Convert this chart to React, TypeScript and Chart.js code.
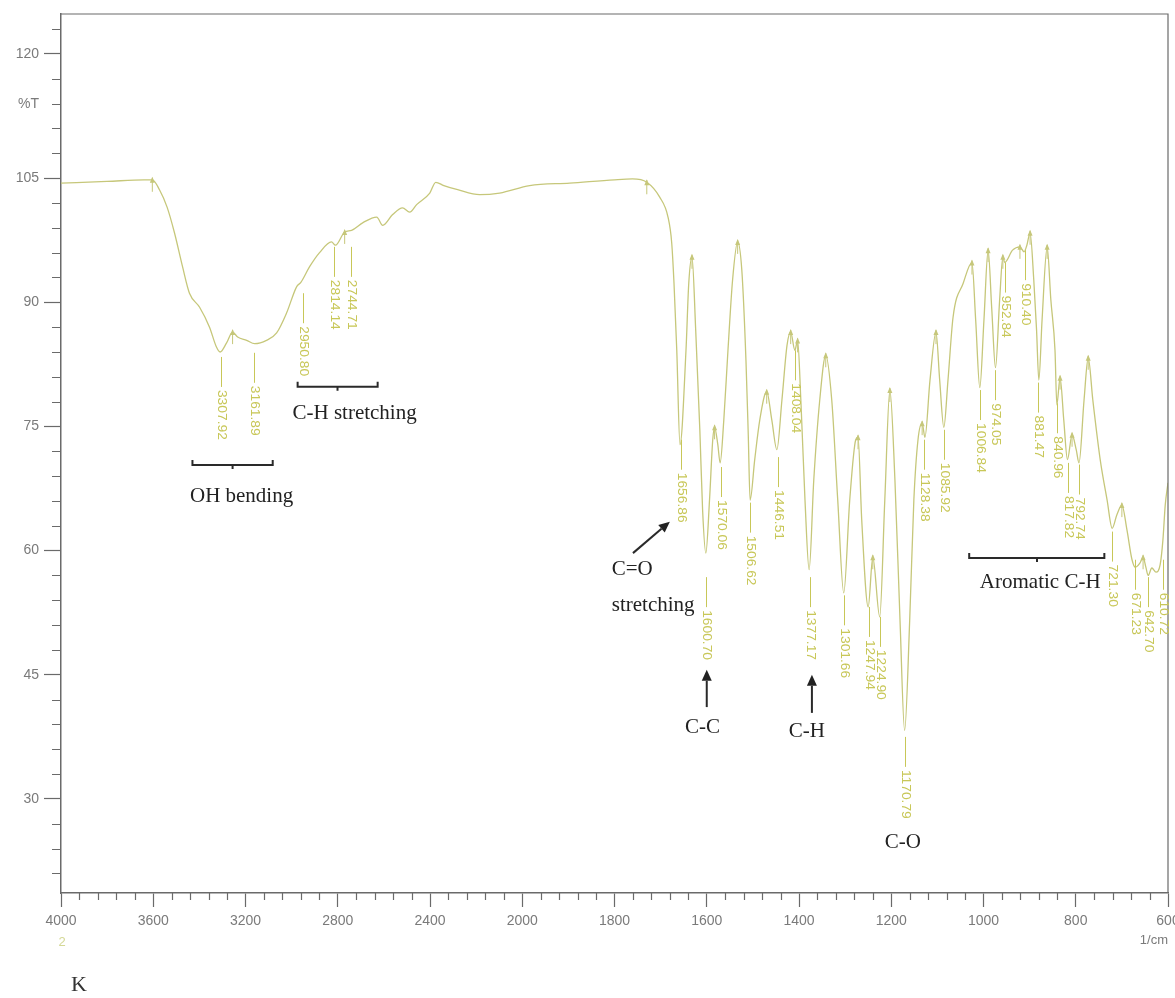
import React, { useEffect, useRef } from 'react';
import { Chart, registerables } from 'chart.js';

Chart.register(...registerables);

// ---- Spectrum data (wavenumber in 1/cm, transmittance in %T) ----
const wavenumbers = [
  4000, 3800, 3640, 3604, 3573, 3540, 3508, 3473, 3443, 3399, 3356, 3326, 3310, 3282, 3256, 3234, 3195, 3160,
  3109, 3065, 3022, 2978, 2960, 2922, 2879, 2827, 2810, 2770, 2740, 2692, 2631, 2605, 2562, 2519, 2488, 2458,
  2401, 2375, 2340, 2280, 2185, 2098, 1984, 1897, 1800, 1761, 1730, 1702, 1684, 1676, 1671, 1665, 1658, 1645,
  1639, 1632, 1624, 1615, 1609, 1602, 1594, 1587, 1583, 1576, 1571, 1563, 1554, 1544, 1533, 1524, 1515, 1510,
  1506, 1496, 1485, 1470, 1459, 1448, 1437, 1426, 1418, 1409, 1403, 1396, 1387, 1378, 1368, 1355, 1342, 1329,
  1316, 1303, 1290, 1277, 1272, 1264, 1250, 1240, 1225, 1214, 1203, 1192, 1181, 1171, 1160, 1151, 1142, 1133,
  1127, 1116, 1103, 1095, 1086, 1077, 1066, 1044, 1025, 1017, 1008, 999, 990, 982, 974, 965, 958, 954, 937, 921,
  912, 906, 899, 891, 885, 880, 873, 862, 854, 845, 841, 834, 826, 818, 808, 799, 793, 782, 773, 763, 747, 732,
  721, 711, 700, 689, 678, 671, 661, 654, 648, 643, 635, 626, 617, 611, 606, 600,
];
const transmittance = [
  104.4, 104.6, 104.8, 104.8, 103.6, 101.5, 98.4, 94.3, 91.1, 89.4, 87.0, 84.6, 84.0, 85.1, 86.4, 85.8, 85.4, 85.0,
  85.4, 86.3, 88.7, 91.9, 92.4, 94.3, 96.0, 97.3, 96.9, 98.5, 98.7, 99.6, 100.3, 99.3, 100.6, 101.4, 100.9, 101.8,
  103.2, 104.5, 104.1, 103.6, 103.0, 103.2, 104.1, 104.4, 104.8, 104.9, 104.5, 102.7, 100.3, 97.2, 92.3, 84.2, 72.8, 84.2,
  92.3, 95.5, 86.7, 74.6, 64.9, 59.7, 66.1, 73.4, 74.9, 72.8, 70.6, 75.8, 84.2, 92.7, 97.3, 93.9, 83.0, 74.0,
  66.1, 71.0, 75.8, 79.2, 75.8, 72.2, 78.2, 84.8, 86.4, 84.2, 85.4, 78.2, 66.1, 57.7, 68.5, 78.2, 83.6, 78.2,
  66.1, 54.9, 66.1, 73.4, 73.7, 63.7, 53.2, 59.2, 52.0, 66.1, 79.4, 68.5, 51.6, 38.3, 51.6, 66.1, 73.4, 75.4,
  73.7, 80.6, 86.4, 80.6, 74.9, 80.6, 88.2, 92.3, 94.8, 87.9, 79.7, 87.9, 96.3, 89.1, 82.1, 90.3, 95.5, 94.8, 96.3, 96.7,
  96.1, 96.9, 98.4, 92.7, 86.7, 80.6, 87.9, 96.7, 90.3, 84.2, 77.6, 80.9, 75.8, 71.0, 74.0, 72.2, 70.6, 78.2, 83.3, 78.2, 71.0, 66.1,
  62.7, 64.3, 65.5, 62.5, 58.9, 58.0, 58.5, 59.2, 58.0, 57.0, 57.9, 57.4, 58.3, 61.3, 65.5, 68.2,
];

// ---- Peak labels ----
const peakWavenumbers = [
  3307.92, 3161.89, 2950.8, 2814.14, 2744.71, 1656.86, 1600.7, 1570.06, 1506.62, 1446.51, 1408.04, 1377.17,
  1301.66, 1247.94, 1224.9, 1170.79, 1128.38, 1085.92, 1006.84, 974.05, 952.84, 910.4, 881.47, 840.96,
  817.82, 792.74, 721.3, 671.23, 642.7, 610.72,
];
const peakLabels = [
  '3307.92', '3161.89', '2950.80', '2814.14', '2744.71', '1656.86', '1600.70', '1570.06', '1506.62', '1446.51',
  '1408.04', '1377.17', '1301.66', '1247.94', '1224.90', '1170.79', '1128.38', '1085.92', '1006.84', '974.05',
  '952.84', '910.40', '881.47', '840.96', '817.82', '792.74', '721.30', '671.23', '642.70', '610.72',
];
const peakAnchorT = [
  83.4, 83.9, 91.1, 96.7, 96.7, 73.4, 56.8, 70.1, 65.8, 71.3, 84.2, 56.8, 54.6, 53.2, 52.0, 37.5, 73.4, 74.6,
  79.4, 81.8, 94.8, 96.3, 80.3, 77.8, 70.6, 70.4, 62.3, 58.9, 56.8, 58.9,
];
const peakTopWavenumbers = [
  3604, 3256, 2770, 1730, 1632, 1583, 1533, 1470, 1418, 1403, 1342, 1272, 1240, 1203, 1133, 1103, 1025, 990,
  958, 921, 899, 862, 834, 808, 773, 700, 654,
];

// ---- Axes ----
const xMajorLabels = [4000, 3600, 3200, 2800, 2400, 2000, 1800, 1600, 1400, 1200, 1000, 800, 600];
const yMajorLabels = [30, 45, 60, 75, 90, 105, 120];
const yUnitTick = 114;
const yUnitLabel = '%T';
const xUnitLabel = '1/cm';
const yMin = 18.64;
const yMax = 124.83;

// ---- Annotations (positions in data units: wavenumber, %T) ----
const bracketNotes = [
  { text: 'OH bending', from: 3430, to: 3082, mid: 3256, t: 70.35, textWn: 3217, textT: 66.5 },
  { text: 'C-H stretching', from: 2974, to: 2627, mid: 2801, t: 79.8, textWn: 2727, textT: 76.6 },
  { text: 'Aromatic C-H', from: 1031, to: 738, mid: 884, t: 59.1, textWn: 877, textT: 56.2 },
];
const arrowNotes = [
  { fromWn: 1760, fromT: 59.7, toWn: 1680, toT: 63.5 },
  { fromWn: 1600, fromT: 41.1, toWn: 1600, toT: 45.6 },
  { fromWn: 1372, fromT: 40.4, toWn: 1372, toT: 45.0 },
];
const textNotes = [
  { text: 'C=O', wn: 1806, t: 57.7, align: 'left' },
  { text: 'stretching', wn: 1806, t: 53.4, align: 'left' },
  { text: 'C-C', wn: 1609, t: 38.6, align: 'center' },
  { text: 'C-H', wn: 1383, t: 38.1, align: 'center' },
  { text: 'C-O', wn: 1175, t: 24.7, align: 'center' },
];

const toU = (wn: number) => (wn >= 2000 ? (4000 - wn) / 2 : 1000 + (2000 - wn));
const fromU = (u: number) => (u <= 1000 ? 4000 - 2 * u : 3000 - u);

const CURVE = 'rgb(198,199,122)';
const LABEL = 'rgb(200,199,88)';
const AXIS = '#6a6a6a';
const TICKTXT = '#7a7a7a';

const annotPlugin = {
  id: 'irAnnotations',
  afterDraw(chart: any) {
    const { ctx, chartArea } = chart;
    const xs = chart.scales.x;
    const ys = chart.scales.y;
    const px = (wn: number) => xs.getPixelForValue(toU(wn));
    const py = (t: number) => ys.getPixelForValue(t);
    ctx.save();

    // frame top & right
    ctx.strokeStyle = AXIS;
    ctx.lineWidth = 1.2;
    ctx.beginPath();
    ctx.moveTo(chartArea.left, chartArea.top);
    ctx.lineTo(chartArea.right, chartArea.top);
    ctx.lineTo(chartArea.right, chartArea.bottom);
    ctx.stroke();

    // minor ticks
    ctx.lineWidth = 1.2;
    ctx.beginPath();
    for (let u = 40; u < 2400; u += 40) {
      if (u % 200 === 0) continue;
      const x = Math.round(xs.getPixelForValue(u)) + 0.5;
      ctx.moveTo(x, chartArea.bottom);
      ctx.lineTo(x, chartArea.bottom + 7);
    }
    for (let v = 21; v <= 123; v += 3) {
      if (v % 15 === 0) continue;
      const y = Math.round(ys.getPixelForValue(v)) + 0.5;
      ctx.moveTo(chartArea.left - 9, y);
      ctx.lineTo(chartArea.left, y);
    }
    ctx.stroke();

    // peak top markers
    ctx.strokeStyle = CURVE;
    ctx.fillStyle = CURVE;
    ctx.lineWidth = 1;
    peakTopWavenumbers.forEach((wn) => {
      let best = 0;
      wavenumbers.forEach((w, i) => {
        if (Math.abs(w - wn) < Math.abs(wavenumbers[best] - wn)) best = i;
      });
      const x = px(wavenumbers[best]);
      const y = py(transmittance[best]);
      ctx.beginPath();
      ctx.moveTo(x, y - 2);
      ctx.lineTo(x, y + 12);
      ctx.stroke();
      ctx.beginPath();
      ctx.moveTo(x, y - 3);
      ctx.lineTo(x - 2.5, y + 3);
      ctx.lineTo(x + 2.5, y + 3);
      ctx.closePath();
      ctx.fill();
    });

    // peak labels
    ctx.strokeStyle = LABEL;
    ctx.fillStyle = LABEL;
    ctx.font = '12px "Liberation Sans", Arial, sans-serif';
    peakWavenumbers.forEach((wn, i) => {
      const x = Math.round(px(wn)) + 0.5;
      const y0 = py(peakAnchorT[i]);
      ctx.beginPath();
      ctx.moveTo(x, y0);
      ctx.lineTo(x, y0 + 30);
      ctx.stroke();
      ctx.save();
      ctx.translate(x, y0 + 33);
      ctx.rotate(Math.PI / 2);
      ctx.scale(1.15, 1);
      ctx.textAlign = 'left';
      ctx.textBaseline = 'middle';
      ctx.fillText(peakLabels[i], 0, 0);
      ctx.restore();
    });

    // brackets
    ctx.strokeStyle = '#2a2a2a';
    ctx.fillStyle = '#222';
    ctx.lineWidth = 2;
    ctx.font = '21px "Liberation Serif", "Times New Roman", serif';
    ctx.textBaseline = 'middle';
    bracketNotes.forEach((b) => {
      const x1 = px(b.from);
      const x2 = px(b.to);
      const xm = px(b.mid);
      const y = py(b.t);
      ctx.beginPath();
      ctx.moveTo(x1, y - 5);
      ctx.lineTo(x1, y);
      ctx.lineTo(x2, y);
      ctx.lineTo(x2, y - 5);
      ctx.moveTo(xm, y);
      ctx.lineTo(xm, y + 4);
      ctx.stroke();
      ctx.textAlign = 'center';
      ctx.fillText(b.text, px(b.textWn), py(b.textT));
    });

    // arrows
    arrowNotes.forEach((a) => {
      const x1 = px(a.fromWn);
      const y1 = py(a.fromT);
      const x2 = px(a.toWn);
      const y2 = py(a.toT);
      const ang = Math.atan2(y2 - y1, x2 - x1);
      const hl = 11;
      const hw = 5;
      const bx = x2 - hl * Math.cos(ang);
      const by = y2 - hl * Math.sin(ang);
      ctx.beginPath();
      ctx.moveTo(x1, y1);
      ctx.lineTo(bx, by);
      ctx.stroke();
      ctx.beginPath();
      ctx.moveTo(x2, y2);
      ctx.lineTo(bx + hw * Math.sin(ang), by - hw * Math.cos(ang));
      ctx.lineTo(bx - hw * Math.sin(ang), by + hw * Math.cos(ang));
      ctx.closePath();
      ctx.fill();
    });

    // free text notes
    textNotes.forEach((n) => {
      ctx.textAlign = n.align as CanvasTextAlign;
      ctx.fillText(n.text, px(n.wn), py(n.t));
    });

    // sample tag and caption below axis
    ctx.textAlign = 'center';
    ctx.fillStyle = 'rgb(212,216,150)';
    ctx.font = '13px "Liberation Sans", Arial, sans-serif';
    ctx.fillText('2', chartArea.left + 1, chartArea.bottom + 49);
    ctx.fillStyle = '#333';
    ctx.font = '22px "Liberation Serif", "Times New Roman", serif';
    ctx.fillText('K', chartArea.left + 18, chartArea.bottom + 92);

    ctx.restore();
  },
};

export default function App() {
  const canvasRef = useRef<HTMLCanvasElement | null>(null);

  useEffect(() => {
    if (!canvasRef.current) return;
    const data = wavenumbers.map((w, i) => ({ x: toU(w), y: transmittance[i] }));
    const tickFont = { family: '"Liberation Sans", Arial, sans-serif', size: 14 };
    const chart = new Chart(canvasRef.current, {
      type: 'line',
      data: {
        datasets: [
          {
            data,
            borderColor: CURVE,
            borderWidth: 1.3,
            pointRadius: 0,
            fill: false,
            cubicInterpolationMode: 'monotone',
          },
        ],
      },
      options: {
        animation: false,
        responsive: false,
        events: [],
        layout: { padding: { top: 14, right: 7, left: 0, bottom: 0 } },
        plugins: { legend: { display: false }, tooltip: { enabled: false } },
        scales: {
          x: {
            type: 'linear',
            min: 0,
            max: 2400,
            afterBuildTicks: (scale: any) => {
              scale.ticks = xMajorLabels.map((w) => ({ value: toU(w) }));
            },
            afterFit: (scale: any) => {
              scale.height = 105;
              scale.paddingLeft = 0;
              scale.paddingRight = 0;
            },
            ticks: {
              autoSkip: false,
              maxRotation: 0,
              minRotation: 0,
              padding: 6,
              color: TICKTXT,
              font: tickFont,
              callback: (v: any) => String(Math.round(fromU(Number(v)))),
            },
            grid: {
              display: true,
              drawOnChartArea: false,
              drawTicks: true,
              tickLength: 14,
              tickColor: AXIS,
              tickWidth: 1.2,
            },
            border: { display: true, color: AXIS, width: 1.5 },
            title: {
              display: true,
              text: xUnitLabel,
              align: 'end',
              color: TICKTXT,
              font: { family: '"Liberation Sans", Arial, sans-serif', size: 13 },
              padding: { top: 0, bottom: 50 },
            },
          },
          y: {
            type: 'linear',
            min: yMin,
            max: yMax,
            afterBuildTicks: (scale: any) => {
              scale.ticks = [...yMajorLabels, yUnitTick].sort((a, b) => a - b).map((v) => ({ value: v }));
            },
            afterFit: (scale: any) => {
              scale.width = 61;
              scale.paddingTop = 0;
              scale.paddingBottom = 0;
            },
            ticks: {
              autoSkip: false,
              padding: 5,
              color: TICKTXT,
              font: tickFont,
              callback: (v: any) => (Number(v) === yUnitTick ? yUnitLabel : String(v)),
            },
            grid: {
              display: true,
              drawOnChartArea: false,
              drawTicks: true,
              tickLength: 17,
              tickWidth: 1.2,
              tickColor: (c: any) => (c.tick && c.tick.value === yUnitTick ? 'rgba(0,0,0,0)' : AXIS),
            },
            border: { display: true, color: AXIS, width: 1.5 },
          },
        },
      },
      plugins: [annotPlugin],
    } as any);
    return () => chart.destroy();
  }, []);

  return (
    <div style={{ position: 'absolute', left: 0, top: 0, width: 1175, height: 998, background: '#fff' }}>
      <canvas ref={canvasRef} width={1175} height={998} />
    </div>
  );
}
